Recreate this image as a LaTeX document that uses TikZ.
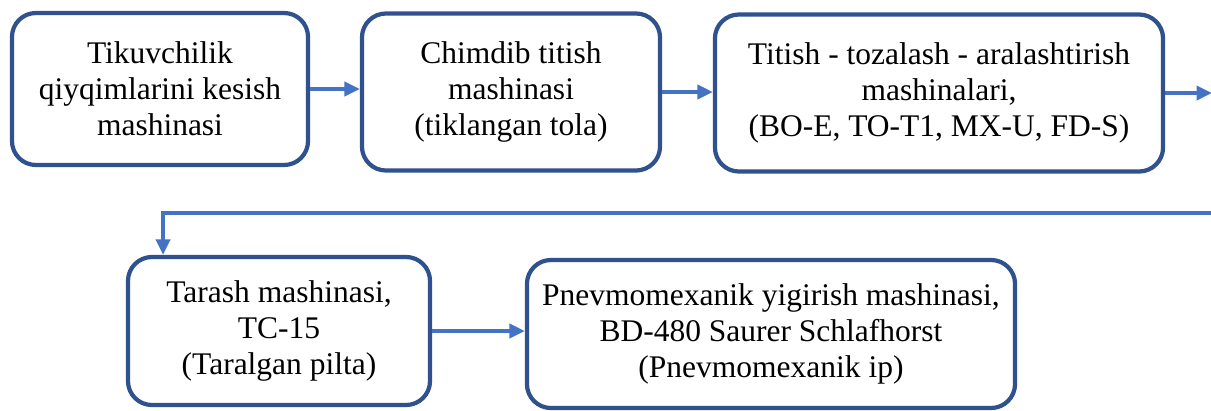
\documentclass[tikz,border=0pt]{standalone}
\usepackage{fontspec}
\setmainfont{Liberation Serif}
\usetikzlibrary{arrows.meta}
\definecolor{boxblue}{HTML}{2F528F}
\definecolor{lineblue}{HTML}{4472C4}
\begin{document}
\begin{tikzpicture}[x=0.025cm, y=-0.025cm,
      stage/.style={rectangle, rounded corners=0.6cm, draw=boxblue, line width=3pt,
        fill=white, align=center, inner sep=2pt,
        font=\rmfamily\fontsize{22.4}{25.6}\selectfont},
      flow/.style={-{Triangle[length=11pt, width=10pt]}, draw=lineblue, line width=2.6pt}
    ]
    \useasboundingbox (0,0) rectangle (1211,410);

    % Top row
    \node[stage, minimum width=7.4cm, minimum height=3.8cm] (cut) at (160,89)
      {Tikuvchilik\\qiyqimlarini kesish\\mashinasi};
    \node[stage, minimum width=7.45cm, minimum height=3.925cm] (pluck) at (511,92)
      {Chimdib titish\\mashinasi\\(tiklangan tola)};
    \node[stage, minimum width=11.2cm, minimum height=3.925cm] (clean) at (939,93)
      {Titish - tozalash - aralashtirish\\mashinalari,\\(BO-E, TO-T1, MX-U, FD-S)};

    % Bottom row
    \node[stage, minimum width=7.55cm, minimum height=3.7cm] (card) at (279,331)
      {Tarash mashinasi,\\TC-15\\(Taralgan pilta)};
    \node[stage, minimum width=12.2cm, minimum height=3.7cm] (spin) at (771,334)
      {Pnevmomexanik yigirish mashinasi,\\BD-480 Saurer Schlafhorst\\(Pnevmomexanik ip)};

    % Connectors
    \coordinate (out) at (1212,93);
    \coordinate (back) at (1230,213);
    \draw[flow] (cut.east) -- (cut.east -| pluck.west);
    \draw[flow] (pluck.east) -- (pluck.east -| clean.west);
    \draw[flow] (clean.east) -- (out);
    \draw[flow] (back) -| ([xshift=0.93cm]card.north west);
    \draw[flow] (card.east) -- (card.east -| spin.west);
  \end{tikzpicture}
\end{document}
